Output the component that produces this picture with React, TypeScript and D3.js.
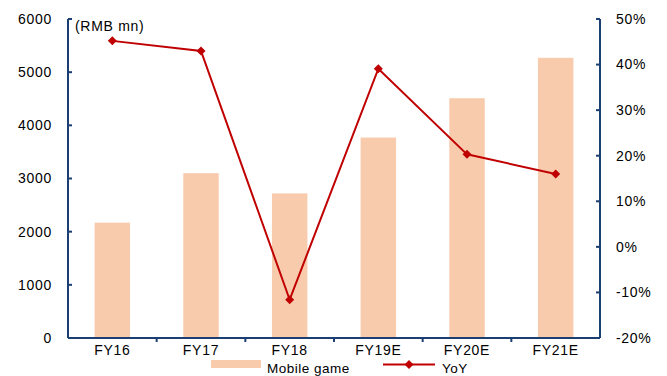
import React from 'react';
import * as d3 from 'd3';

const categories = ['FY16', 'FY17', 'FY18', 'FY19E', 'FY20E', 'FY21E'];
const mobileGame = [2170, 3100, 2720, 3770, 4510, 5270];
const yoy = [45.2, 43.0, -11.6, 39.1, 20.3, 16.0];
const leftTicks = [0, 1000, 2000, 3000, 4000, 5000, 6000];
const rightTicks = [-20, -10, 0, 10, 20, 30, 40, 50];

const W = 667;
const H = 376;
const margin = { top: 19, right: 67, bottom: 38, left: 68 };
const axisColor = '#1B3F73';
const barColor = '#F8CBAD';
const lineColor = '#C00000';
const font = 'Liberation Sans, Arial, sans-serif';
const fs = 14;
const ls = 0.7;

const diamond = (x: number, y: number, r: number) =>
  `M${x},${y - r}L${x + r},${y}L${x},${y + r}L${x - r},${y}Z`;

const App = () => {
  const x0 = margin.left;
  const x1 = W - margin.right;
  const y0 = H - margin.bottom;
  const y1 = margin.top;

  const x = d3.scaleBand().domain(categories).range([x0, x1]).paddingInner(0).paddingOuter(0);
  const yLeft = d3.scaleLinear().domain([0, 6000]).range([y0, y1]);
  const yRight = d3.scaleLinear().domain([-20, 50]).range([y0, y1]);
  const barW = x.bandwidth() * 0.4;
  const cx = (c: string) => (x(c) as number) + x.bandwidth() / 2;

  const line = d3
    .line<number>()
    .x((_, i) => cx(categories[i]))
    .y((d) => yRight(d));

  return (
    <svg width={W} height={H} style={{ position: 'absolute', left: 0, top: 0 }} fontFamily={font}>
      <rect width={W} height={H} fill="#fff" />
      {/* bars */}
      {mobileGame.map((v, i) => (
        <rect
          key={categories[i]}
          x={cx(categories[i]) - barW / 2}
          y={yLeft(v)}
          width={barW}
          height={yLeft(0) - yLeft(v)}
          fill={barColor}
        />
      ))}

      {/* left axis */}
      <line x1={x0} x2={x0} y1={y1} y2={y0} stroke={axisColor} strokeWidth={2} />
      {leftTicks.map((t) => (
        <g key={t}>
          <line x1={x0} x2={x0 + 4} y1={yLeft(t)} y2={yLeft(t)} stroke={axisColor} strokeWidth={2} />
          <text x={52} y={yLeft(t)} dy="0.35em" textAnchor="end" fontSize={fs} letterSpacing={ls} fill="#000">
            {t}
          </text>
        </g>
      ))}

      {/* right axis */}
      <line x1={x1} x2={x1} y1={y1} y2={y0} stroke={axisColor} strokeWidth={2} />
      {rightTicks.map((t) => (
        <g key={t}>
          <line x1={x1 - 4} x2={x1} y1={yRight(t)} y2={yRight(t)} stroke={axisColor} strokeWidth={2} />
          <text x={616} y={yRight(t)} dy="0.35em" textAnchor="start" fontSize={fs} letterSpacing={ls} fill="#000">
            {t}%
          </text>
        </g>
      ))}

      {/* bottom axis */}
      <line x1={x0} x2={x1} y1={y0} y2={y0} stroke={axisColor} strokeWidth={2} />
      {categories.map((c, i) => (
        <g key={c}>
          {i > 0 && (
            <line x1={x(c)} x2={x(c)} y1={y0} y2={y0 + 4} stroke={axisColor} strokeWidth={2} />
          )}
          <text x={cx(c)} y={355} textAnchor="middle" fontSize={fs} letterSpacing={ls} fill="#000">
            {c}
          </text>
        </g>
      ))}

      <text x={75} y={31} fontSize={fs} letterSpacing={ls} fill="#000">(RMB mn)</text>

      {/* YoY line */}
      <path d={line(yoy) || ''} fill="none" stroke={lineColor} strokeWidth={2} />
      {yoy.map((v, i) => (
        <path key={i} d={diamond(cx(categories[i]), yRight(v), 4.5)} fill={lineColor} />
      ))}

      {/* legend */}
      <rect x={211} y={360} width={50} height={8} fill={barColor} />
      <text x={267} y={373} fontSize={13.5} letterSpacing={0.5} fill="#000">Mobile game</text>
      <line x1={383} x2={435} y1={364.5} y2={364.5} stroke={lineColor} strokeWidth={2} />
      <path d={diamond(409, 364.5, 4.5)} fill={lineColor} />
      <text x={442} y={373} fontSize={13.5} letterSpacing={0.5} fill="#000">YoY</text>
    </svg>
  );
};

export default App;
